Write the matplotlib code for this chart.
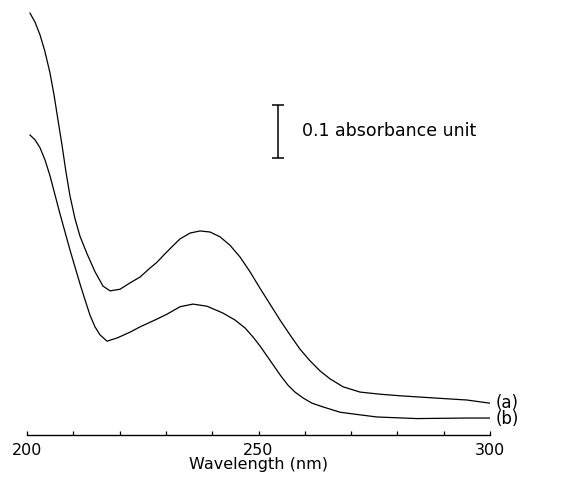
import matplotlib
matplotlib.use("Agg")
import matplotlib.pyplot as plt
from matplotlib.ticker import MultipleLocator

# Wavelength (nm) and absorbance
wl_a = [200.65, 201.73, 202.81, 203.89, 204.97, 205.83, 206.70, 207.56, 208.42, 209.29,
        210.37, 211.45, 212.96, 214.69, 216.41, 217.93, 220.09, 222.25, 224.41, 226.57,
        228.08, 229.81, 231.53, 233.05, 235.21, 237.37, 239.52, 241.68, 243.84, 246.00,
        248.16, 250.32, 252.48, 254.64, 256.80, 258.96, 261.12, 263.28, 265.44, 268.25,
        271.92, 276.24, 280.56, 287.69, 295.03, 300.00]
abs_a = [0.796, 0.779, 0.755, 0.723, 0.683, 0.642, 0.594, 0.547, 0.496, 0.451,
         0.408, 0.375, 0.342, 0.308, 0.281, 0.272, 0.275, 0.287, 0.298, 0.315,
         0.326, 0.342, 0.357, 0.370, 0.381, 0.385, 0.383, 0.374, 0.358, 0.336,
         0.308, 0.277, 0.247, 0.217, 0.189, 0.162, 0.140, 0.121, 0.106, 0.091,
         0.081, 0.077, 0.074, 0.070, 0.066, 0.060]

wl_b = [200.65, 201.73, 202.81, 203.89, 204.97, 206.05, 207.13, 208.21, 209.29, 210.37,
        211.45, 212.53, 213.61, 214.69, 215.77, 217.28, 219.44, 222.25, 224.41, 227.65,
        230.24, 233.05, 235.85, 238.88, 242.33, 244.92, 247.08, 248.81, 250.32, 251.84,
        253.35, 254.86, 256.37, 257.88, 259.61, 261.56, 263.93, 267.60, 271.92, 275.59,
        284.23, 295.03, 300.00]
abs_b = [0.566, 0.557, 0.542, 0.519, 0.489, 0.453, 0.417, 0.383, 0.349, 0.317,
         0.285, 0.255, 0.226, 0.204, 0.189, 0.177, 0.183, 0.194, 0.204, 0.217,
         0.228, 0.242, 0.247, 0.243, 0.230, 0.217, 0.202, 0.185, 0.168, 0.149,
         0.130, 0.111, 0.094, 0.081, 0.070, 0.060, 0.053, 0.043, 0.038, 0.034,
         0.031, 0.032, 0.032]

series_labels = ["(a)", "(b)"]
xticks_major = [200, 250, 300]
scale_bar = 0.1
scale_text = "0.1 absorbance unit"

fig = plt.figure(figsize=(5.78, 4.82), dpi=100)
ax = fig.add_axes([27/578, 47/482, 463/578, 430/482])
ax.set_xlim(200, 300)
ax.set_ylim(0, 430/530)

lw = 0.9
ax.plot(wl_a, abs_a, color="black", lw=lw, solid_joinstyle="round")
ax.plot(wl_b, abs_b, color="black", lw=lw, solid_joinstyle="round")

ax.text(301.3, abs_a[-1] + 0.001, series_labels[0], fontsize=12, va="center", ha="left", clip_on=False)
ax.text(301.3, abs_b[-1] - 0.002, series_labels[1], fontsize=12, va="center", ha="left", clip_on=False)

# scale bar
sb_x, sb_y0 = 254.2, 0.523
ax.errorbar([sb_x], [sb_y0 + scale_bar/2], yerr=[scale_bar/2], color="black",
            capsize=4.5, elinewidth=1.1, capthick=1.1, fmt="none")
ax.text(259.4, sb_y0 + scale_bar/2, scale_text, fontsize=12.5, va="center", ha="left")

for s in ["left", "right", "top"]:
    ax.spines[s].set_visible(False)
ax.spines["bottom"].set_linewidth(1.0)
ax.set_yticks([])
ax.set_xticks(xticks_major)
ax.xaxis.set_minor_locator(MultipleLocator(10))
ax.tick_params(axis="x", which="both", direction="in", length=3, width=0.9, pad=6, labelsize=11.5)
ax.set_xlabel("Wavelength (nm)", fontsize=11.5, labelpad=-1)

fig.savefig("out.png", dpi=100)
